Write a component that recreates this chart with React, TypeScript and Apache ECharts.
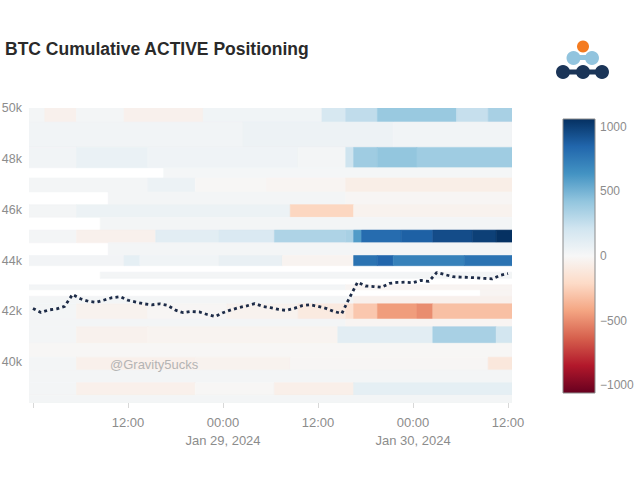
import React, { useEffect, useRef } from 'react';
import * as echarts from 'echarts';

const chartTitle = 'BTC Cumulative ACTIVE Positioning';
const watermarkText = '@Gravity5ucks';
const startUtc = Date.UTC(2024, 0, 28, 0, 0);

// BTC price, hourly from Jan 28 00:00 to Jan 30 12:00 (61 points)
const btcPrice = [
  42120, 41960, 42060, 42100, 42200, 42670, 42500, 42400, 42360, 42450,
  42540, 42580, 42440, 42370, 42300, 42260, 42300, 42240, 42050, 41950,
  42000, 41980, 41880, 41800, 41950, 42060, 42150, 42220, 42310, 42200,
  42150, 42080, 42040, 42120, 42230, 42260, 42200, 42120, 42000, 41920,
  42550, 43150, 43000, 42980, 42950, 43100, 43140, 43150, 43130, 43220,
  43180, 43530, 43450, 43370, 43350, 43340, 43320, 43300, 43280, 43420,
  43490,
];

// price level band edges (top to bottom); row i spans rowEdges[i+1]..rowEdges[i]
const rowEdges = [
  50000, 49450, 48450, 47650, 47250, 46700, 46200, 45700, 45200, 44700,
  44200, 43800, 43550, 43300, 43050, 42850, 42600, 42300, 41700, 41400,
  40750, 40200, 39700, 39200, 38700, 38400,
];

// per row: [first hour, last hour, cumulative positioning]
const rowSegments: number[][][] = [
  [[0, 1, 25], [2, 5, -50], [6, 11, 25], [12, 21, -50], [22, 36, 40], [37, 39, 180], [40, 43, 270], [44, 53, 400], [54, 57, 250], [58, 60, 350]],
  [[0, 26, 35], [27, 45, 55], [46, 60, 35]],
  [[0, 5, 35], [6, 14, 70], [15, 33, 45], [34, 39, 25], [40, 40, 220], [41, 43, 380], [44, 48, 420], [49, 60, 380]],
  [[17, 60, 15]],
  [[0, 14, 25], [15, 20, 60], [21, 29, -10], [30, 39, -20], [40, 60, -70]],
  [[10, 39, 20], [40, 60, -15]],
  [[0, 5, 25], [6, 32, 60], [33, 40, -230], [41, 60, -40]],
  [[9, 60, 20]],
  [[0, 5, 25], [6, 15, -50], [16, 23, 120], [24, 30, 160], [31, 39, 330], [40, 40, 350], [41, 41, 600], [42, 46, 820], [47, 50, 870], [51, 55, 950], [56, 58, 1000], [59, 60, 1060]],
  [[10, 60, 20]],
  [[0, 11, 30], [12, 13, 100], [14, 23, 40], [24, 31, 80], [32, 40, -30], [41, 43, 790], [44, 45, 850], [46, 54, 720], [55, 60, 790]],
  [],
  [[9, 60, 20]],
  [],
  [[0, 39, 20], [40, 60, -20]],
  [[57, 60, -20]],
  [[0, 40, 20], [41, 60, -50]],
  [[0, 5, 20], [6, 14, -40], [15, 24, -15], [25, 33, -40], [34, 39, -100], [40, 40, -160], [41, 43, -290], [44, 48, -450], [49, 50, -500], [51, 60, -320]],
  [[0, 39, 20], [40, 60, -20]],
  [[0, 5, 20], [6, 14, -45], [15, 38, -30], [39, 50, 120], [51, 58, 350], [59, 60, 200]],
  [[0, 60, -10]],
  [[0, 5, 20], [6, 20, -55], [21, 32, -40], [33, 57, -15], [58, 60, -120]],
  [[0, 60, 20]],
  [[0, 5, 20], [6, 20, -55], [21, 30, -10], [31, 40, -60], [41, 60, 100]],
  [[0, 60, 25]],
];

const yTicks = [40000, 42000, 44000, 46000, 48000, 50000];
const xTicks = [0, 12, 24, 36, 48, 60];
const xLabelHours = [12, 24, 36, 48, 60];
const colorbarTicks = [1000, 500, 0, -500, -1000];
const zLimit = 1062;
const rdbu = [
  '#67001f', '#b2182b', '#d6604d', '#f4a582', '#fddbc7', '#f7f7f7',
  '#d1e5f0', '#92c5de', '#4393c3', '#2166ac', '#053061',
];

const months = ['Jan', 'Feb', 'Mar', 'Apr', 'May', 'Jun', 'Jul', 'Aug', 'Sep', 'Oct', 'Nov', 'Dec'];
const pad = (n: number) => (n < 10 ? '0' + n : '' + n);

export default function App() {
  const ref = useRef<HTMLDivElement>(null);
  useEffect(() => {
    if (!ref.current) return;
    const chart = echarts.init(ref.current, undefined, { renderer: 'svg' });

    const cells: number[][] = [];
    rowSegments.forEach((segs, i) => {
      segs.forEach(([h0, h1, v]) => {
        cells.push([h0 - 0.5, h1 + 0.5, rowEdges[i + 1], rowEdges[i], v]);
      });
    });

    const font = 'Liberation Sans, Arial, sans-serif';
    const cbX = 563, cbY = 119, cbW = 32, cbH = 274;
    const cbStops = rdbu.slice().reverse().map((c, i) => ({ offset: i / (rdbu.length - 1), color: c }));

    const graphics: any[] = [
      {
        type: 'rect',
        shape: { x: cbX, y: cbY, width: cbW, height: cbH },
        style: {
          fill: new echarts.graphic.LinearGradient(0, 0, 0, 1, cbStops),
          stroke: '#8a8a8a',
          lineWidth: 1,
        },
      },
      ...colorbarTicks.map((t) => ({
        type: 'text',
        x: cbX + cbW + 5,
        y: cbY + ((zLimit - t) / (2 * zLimit)) * cbH,
        style: {
          text: t < 0 ? '\u2212' + Math.abs(t) : String(t),
          fill: '#8c8c8c',
          font: `12px ${font}`,
          textAlign: 'left',
          textVerticalAlign: 'middle',
        },
      })),
      {
        type: 'text',
        x: 110,
        y: 364,
        z: 10,
        style: {
          text: watermarkText,
          fill: '#b4b4b4',
          font: `13px ${font}`,
          textAlign: 'left',
          textVerticalAlign: 'middle',
        },
      },
      // logo
      { type: 'rect', shape: { x: 563, y: 69.5, width: 39, height: 5 }, style: { fill: '#1b3558' } },
      { type: 'circle', shape: { cx: 563, cy: 72, r: 7 }, style: { fill: '#1b3558' } },
      { type: 'circle', shape: { cx: 583, cy: 72, r: 7 }, style: { fill: '#1b3558' } },
      { type: 'circle', shape: { cx: 602, cy: 72, r: 7 }, style: { fill: '#1b3558' } },
      { type: 'rect', shape: { x: 573, y: 55, width: 19, height: 5 }, style: { fill: '#92c4de' } },
      { type: 'circle', shape: { cx: 573.5, cy: 58, r: 7 }, style: { fill: '#92c4de' } },
      { type: 'circle', shape: { cx: 592, cy: 58, r: 7 }, style: { fill: '#92c4de' } },
      { type: 'circle', shape: { cx: 583, cy: 46.5, r: 6 }, style: { fill: '#f47b20' } },
    ];

    chart.setOption({
      animation: false,
      backgroundColor: '#ffffff',
      title: {
        text: chartTitle,
        left: 5,
        top: 40,
        padding: 0,
        textStyle: { fontFamily: font, fontSize: 17.5, fontWeight: 'bold', color: '#2a2a2a' },
      },
      grid: { left: 29, top: 108, width: 483, height: 295, containLabel: false, outerBoundsMode: 'none' },
      xAxis: {
        type: 'value',
        min: -0.5,
        max: 60.5,
        axisLine: { show: false },
        splitLine: { show: false },
        axisTick: { show: true, customValues: xTicks, length: 5, lineStyle: { color: '#d8d8d8' } },
        axisLabel: {
          customValues: xLabelHours,
          margin: 10,
          color: '#8c8c8c',
          fontFamily: font,
          fontSize: 13,
          lineHeight: 18,
          formatter: (v: number) => {
            const d = new Date(startUtc + v * 3600000);
            const hh = pad(d.getUTCHours()) + ':' + pad(d.getUTCMinutes());
            if (d.getUTCHours() === 0) {
              return hh + '\n' + months[d.getUTCMonth()] + ' ' + d.getUTCDate() + ', ' + d.getUTCFullYear();
            }
            return hh;
          },
        },
      },
      yAxis: {
        type: 'value',
        min: 38400,
        max: 50000,
        axisLine: { show: false },
        splitLine: { show: false },
        axisTick: { show: true, customValues: yTicks, length: 4, lineStyle: { color: '#d8d8d8' } },
        axisLabel: {
          customValues: yTicks,
          margin: 7,
          color: '#8c8c8c',
          fontFamily: font,
          fontSize: 12.5,
          formatter: (v: number) => v / 1000 + 'k',
        },
      },
      visualMap: {
        show: false,
        type: 'continuous',
        seriesIndex: 0,
        dimension: 4,
        min: -zLimit,
        max: zLimit,
        inRange: { color: rdbu },
      },
      series: [
        {
          type: 'custom',
          data: cells,
          encode: { x: [0, 1], y: [2, 3] },
          clip: true,
          renderItem: (params: any, api: any) => {
            const p0 = api.coord([api.value(0), api.value(3)]);
            const p1 = api.coord([api.value(1), api.value(2)]);
            const c = api.visual('color');
            return {
              type: 'rect',
              shape: { x: p0[0], y: p0[1], width: p1[0] - p0[0], height: p1[1] - p0[1] },
              style: { fill: c, stroke: c, lineWidth: 0.6 },
            };
          },
        },
        {
          type: 'line',
          data: btcPrice.map((p, i) => [i, p]),
          showSymbol: false,
          symbol: 'none',
          z: 5,
          lineStyle: { color: '#1d2b47', width: 2.8, type: [3, 3.2], cap: 'butt' },
        },
      ],
      graphic: graphics,
    });

    return () => chart.dispose();
  }, []);

  return (
    <div
      ref={ref}
      style={{ position: 'fixed', left: 0, top: 0, width: 640, height: 491, background: '#fff' }}
    />
  );
}
